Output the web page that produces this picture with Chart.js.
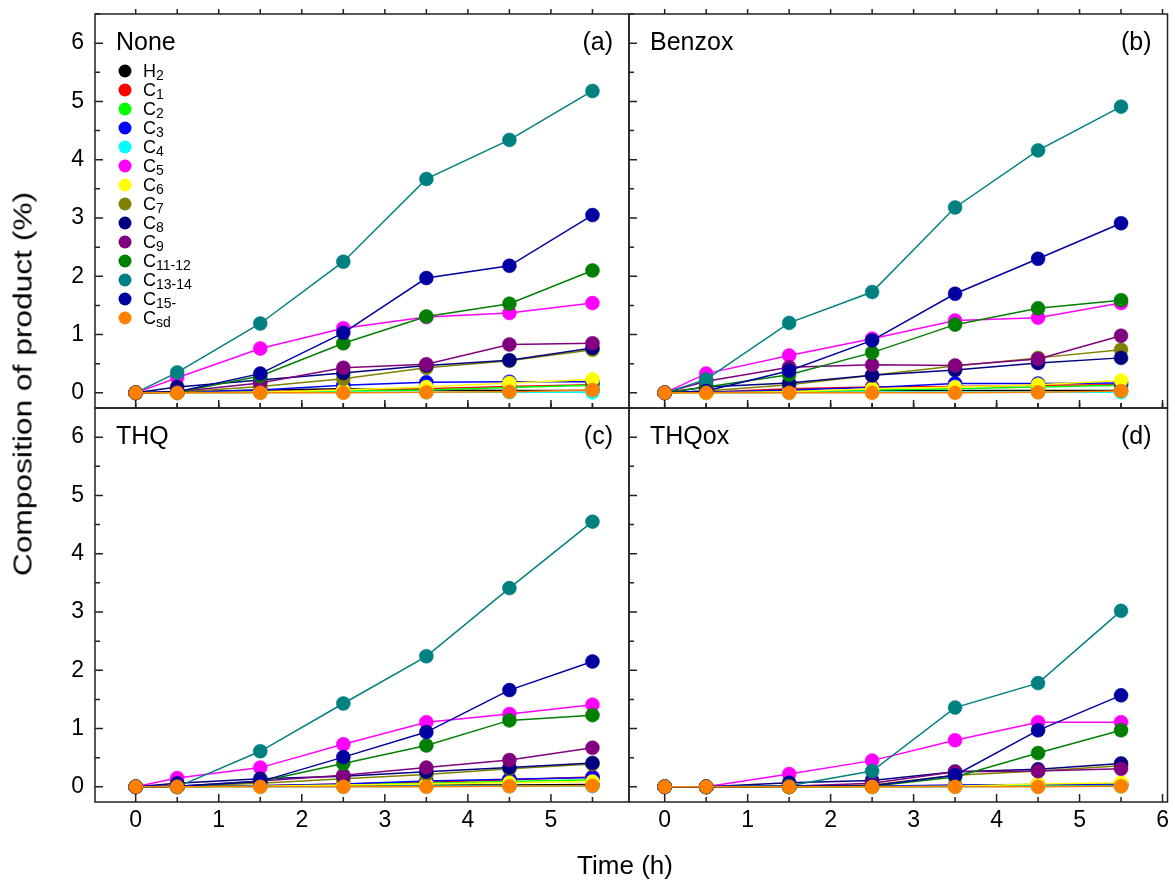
<!DOCTYPE html>
<html>
<head>
<meta charset="utf-8">
<script src="https://cdn.jsdelivr.net/npm/chart.js@4.4.1/dist/chart.umd.min.js"></script>
<style>
  body { margin: 0; background: #fff; overflow: hidden; }
  #wrap { position: relative; width: 1175px; height: 882px; font-family: "Liberation Sans", Arial, sans-serif; color: #000; }
  #wrap canvas { position: absolute; left: 0; top: 0; }
  .xtitle { position: absolute; left: 500px; width: 250px; top: 850px; text-align: center; font-size: 26px; line-height: 30px; }
  .ytitle { position: absolute; left: 23px; top: 384px; transform: translate(-50%, -50%) rotate(-90deg) scaleX(1.22); white-space: nowrap; font-size: 26px; }
</style>
</head>
<body>
<div id="wrap">
  <canvas id="pa" width="1175" height="882"></canvas>
  <canvas id="pb" width="1175" height="882"></canvas>
  <canvas id="pc" width="1175" height="882"></canvas>
  <canvas id="pd" width="1175" height="882"></canvas>
  <div class="xtitle">Time (h)</div>
  <div class="ytitle">Composition of product (%)</div>
</div>
<script>
const times = [0, 0.5, 1.5, 2.5, 3.5, 4.5, 5.5];
const species = ['H_2', 'C_1', 'C_2', 'C_3', 'C_4', 'C_5', 'C_6', 'C_7', 'C_8', 'C_9', 'C_11-12', 'C_13-14', 'C_15-', 'C_sd'];
const colors = ['#000000', '#ff0000', '#00ff00', '#0000ff', '#00ffff', '#ff00ff', '#ffff00',
                '#808000', '#000080', '#800080', '#008000', '#008080', '#0000a0', '#ff8000'];
const yTicks = [0, 1, 2, 3, 4, 5, 6];
const xTicks = [0, 1, 2, 3, 4, 5, 6];

// one row per species, same order as `species`
const valuesNone = [
  [0, 0.01, 0.05, 0.07, 0.05, 0.04, 0.04],
  [0, 0, 0.02, 0.05, 0.07, 0.11, 0.14],
  [0, 0, 0.01, 0.03, 0.05, 0.09, 0.13],
  [0, 0.01, 0.05, 0.13, 0.18, 0.19, 0.19],
  [0, 0, 0, 0.01, 0.01, 0.01, 0.01],
  [0, 0.26, 0.76, 1.11, 1.30, 1.37, 1.54],
  [0, 0, 0.01, 0.05, 0.10, 0.17, 0.23],
  [0, 0.01, 0.11, 0.24, 0.43, 0.55, 0.74],
  [0, 0.10, 0.22, 0.34, 0.47, 0.56, 0.77],
  [0, 0.02, 0.17, 0.43, 0.49, 0.83, 0.85],
  [0, 0.01, 0.29, 0.85, 1.31, 1.53, 2.10],
  [0, 0.35, 1.19, 2.25, 3.67, 4.34, 5.18],
  [0, 0.02, 0.33, 1.03, 1.97, 2.18, 3.05],
  [0, 0, 0, 0, 0.01, 0.02, 0.05]
];
const valuesBenzox = [
  [0, 0.01, 0.03, 0.04, 0.04, 0.04, 0.04],
  [0, 0.01, 0.07, 0.10, 0.11, 0.13, 0.14],
  [0, 0, 0.02, 0.05, 0.07, 0.10, 0.13],
  [0, 0.01, 0.05, 0.09, 0.16, 0.16, 0.17],
  [0, 0, 0, 0.01, 0.01, 0.01, 0.01],
  [0, 0.33, 0.64, 0.93, 1.24, 1.29, 1.54],
  [0, 0, 0.02, 0.07, 0.10, 0.14, 0.21],
  [0, 0.03, 0.14, 0.30, 0.46, 0.60, 0.74],
  [0, 0.10, 0.17, 0.30, 0.39, 0.51, 0.60],
  [0, 0.20, 0.44, 0.48, 0.47, 0.58, 0.98],
  [0, 0.10, 0.31, 0.69, 1.17, 1.45, 1.59],
  [0, 0.23, 1.20, 1.73, 3.18, 4.16, 4.91],
  [0, 0.03, 0.38, 0.90, 1.70, 2.30, 2.91],
  [0, 0, 0, 0, 0, 0.01, 0.03]
];
const valuesTHQ = [
  [0, 0.01, 0.02, 0.03, 0.03, 0.03, 0.04],
  [0, 0, 0.02, 0.05, 0.08, 0.12, 0.17],
  [0, 0, 0.01, 0.04, 0.06, 0.09, 0.12],
  [0, 0, 0.02, 0.05, 0.10, 0.13, 0.16],
  [0, 0, 0, 0, 0.01, 0.01, 0.01],
  [0, 0.15, 0.33, 0.73, 1.11, 1.25, 1.41],
  [0, 0, 0.01, 0.03, 0.05, 0.07, 0.09],
  [0, 0.01, 0.06, 0.14, 0.21, 0.31, 0.39],
  [0, 0.06, 0.14, 0.18, 0.26, 0.33, 0.41],
  [0, 0.01, 0.10, 0.20, 0.33, 0.46, 0.67],
  [0, 0, 0.09, 0.40, 0.71, 1.14, 1.23],
  [0, 0, 0.61, 1.43, 2.24, 3.41, 4.55],
  [0, 0.01, 0.09, 0.51, 0.94, 1.66, 2.15],
  [0, 0, 0, 0, 0, 0.01, 0.02]
];
const valuesTHQox = [
  [0, 0, 0, 0, 0.01, 0.01, 0.02],
  [0, 0, 0, 0.01, 0.02, 0.03, 0.04],
  [0, 0, 0, 0, 0.01, 0.03, 0.04],
  [0, 0, 0, 0.01, 0.03, 0.04, 0.05],
  [0, 0, 0, 0, 0, 0.01, 0.01],
  [0, 0, 0.22, 0.45, 0.80, 1.11, 1.11],
  [0, 0, 0, 0, 0.01, 0.05, 0.07],
  [0, 0, 0.01, 0.03, 0.20, 0.27, 0.36],
  [0, 0, 0.07, 0.11, 0.26, 0.30, 0.40],
  [0, 0, 0.01, 0.06, 0.26, 0.27, 0.31],
  [0, 0, 0, 0.01, 0.17, 0.58, 0.97],
  [0, 0, 0.02, 0.27, 1.36, 1.78, 3.02],
  [0, 0, 0.01, 0.02, 0.20, 0.97, 1.57],
  [0, 0, 0, 0, 0, 0, 0.01]
];

const W = 1175, H = 882;
const FONT = '"Liberation Sans", Arial, sans-serif';

// label like "C_11-12" -> "C" with subscript "11-12"
function drawSubLabel(ctx, label, x, y, size) {
  const [base, sub] = label.split('_');
  ctx.textAlign = 'left';
  ctx.textBaseline = 'alphabetic';
  ctx.font = size + 'px ' + FONT;
  ctx.fillText(base, x, y);
  if (sub) {
    const w = ctx.measureText(base).width;
    ctx.font = Math.round(size * 0.75) + 'px ' + FONT;
    ctx.fillText(sub, x + w, y + 3);
  }
}

function panelPlugin(name, tag, withLegend) {
  return {
    id: 'panel',
    afterDatasetsDraw(chart) {
      const {ctx, chartArea: a, scales: {x, y}} = chart;
      ctx.save();
      ctx.strokeStyle = '#222';
      ctx.lineWidth = 1.5;
      ctx.strokeRect(a.left, a.top, a.right - a.left, a.bottom - a.top);
      ctx.beginPath();
      yTicks.forEach(v => {
        [v, v + 0.5].forEach((t, k) => {
          if (t < y.min || t > y.max) return;
          const py = y.getPixelForValue(t);
          ctx.moveTo(a.left, py);
          ctx.lineTo(a.left + (k ? 5 : 8), py);
        });
      });
      xTicks.forEach(v => {
        [v, v + 0.5].forEach((t, k) => {
          if (t < x.min || t > x.max) return;
          const px = x.getPixelForValue(t);
          ctx.moveTo(px, a.bottom);
          ctx.lineTo(px, a.bottom - (k ? 5 : 8));
          ctx.moveTo(px, a.top);
          ctx.lineTo(px, a.top - 5);
        });
      });
      ctx.stroke();

      ctx.fillStyle = '#000';
      ctx.font = '25px ' + FONT;
      ctx.textBaseline = 'alphabetic';
      ctx.textAlign = 'left';
      ctx.fillText(name, a.left + 21, a.top + 36);
      ctx.textAlign = 'right';
      ctx.fillText(tag, a.right - 16, a.top + 36);

      if (withLegend) {
        chart.data.datasets.forEach((ds, i) => {
          const cy = a.top + 57 + i * 19;
          ctx.beginPath();
          ctx.fillStyle = ds.backgroundColor;
          ctx.arc(a.left + 30, cy, 6.5, 0, Math.PI * 2);
          ctx.fill();
          ctx.fillStyle = '#000';
          drawSubLabel(ctx, ds.label, a.left + 48, cy + 6, 18);
        });
      }
      ctx.restore();
    }
  };
}

function makePanel(id, values, name, tag, area, xRange, showX, showY, withLegend) {
  const tickFont = {family: FONT, size: 23};
  const axisW = showY ? area[0] : 0;
  const axisH = showX ? H - area[3] : 0;
  new Chart(document.getElementById(id), {
    type: 'line',
    data: {
      datasets: species.map((s, i) => ({
        label: s,
        data: times.map((t, j) => ({x: t, y: values[i][j]})),
        borderColor: colors[i],
        backgroundColor: colors[i],
        pointBackgroundColor: colors[i],
        pointBorderColor: colors[i],
        pointBorderWidth: 0.5,
        pointRadius: 7,
        borderWidth: 1.5,
        tension: 0,
        clip: false,
        order: species.length - i
      }))
    },
    options: {
      responsive: false,
      animation: false,
      devicePixelRatio: 1,
      layout: {padding: {left: area[0] - axisW, top: area[1], right: W - area[2], bottom: H - area[3] - axisH}},
      plugins: {legend: {display: false}, tooltip: {enabled: false}},
      scales: {
        x: {
          type: 'linear', min: xRange[0], max: xRange[1],
          afterFit: s => { s.height = axisH; s.paddingLeft = 0; s.paddingRight = 0; },
          afterBuildTicks: s => { s.ticks = xTicks.filter(v => v >= s.min && v <= s.max).map(v => ({value: v})); },
          grid: {display: false, drawTicks: false, tickLength: 0}, border: {display: false},
          ticks: {display: showX, font: tickFont, color: '#000', padding: 5, maxRotation: 0, autoSkip: false}
        },
        y: {
          type: 'linear', min: -0.26, max: 6.5,
          afterFit: s => { s.width = axisW; s.paddingTop = 0; s.paddingBottom = 0; },
          afterBuildTicks: s => { s.ticks = yTicks.map(v => ({value: v})); },
          grid: {display: false, drawTicks: false, tickLength: 0}, border: {display: false},
          ticks: {display: showY, font: tickFont, color: '#000', padding: 11, autoSkip: false}
        }
      }
    },
    plugins: [panelPlugin(name, tag, withLegend)]
  });
}

makePanel('pa', valuesNone, 'None', '(a)', [95, 14, 629, 408], [-0.49, 5.94], false, true, true);
makePanel('pb', valuesBenzox, 'Benzox', '(b)', [629, 14, 1168, 408], [-0.43, 6.06], false, false, false);
makePanel('pc', valuesTHQ, 'THQ', '(c)', [95, 408, 629, 802], [-0.49, 5.94], true, true, false);
makePanel('pd', valuesTHQox, 'THQox', '(d)', [629, 408, 1168, 802], [-0.43, 6.06], true, false, false);
</script>
</body>
</html>
